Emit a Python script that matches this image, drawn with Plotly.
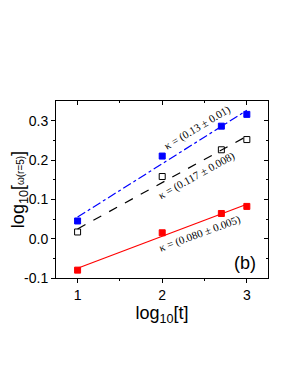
import numpy as np
import plotly.graph_objects as go

log_t = [1.0, 2.0, 2.699, 3.0]
blue_vals = [0.045, 0.210, 0.286, 0.316]
black_vals = [0.017, 0.158, 0.226, 0.252]
red_vals = [-0.080, 0.015, 0.064, 0.082]
x_ticks = [1, 2, 3]
y_ticks = [-0.1, 0.0, 0.1, 0.2, 0.3]
y_tick_text = ["-0.1", "0.0", "0.1", "0.2", "0.3"]

XR = [0.745, 3.25]
YR = [-0.1, 0.35]

fig = go.Figure()

def fit_line(vals):
    p = np.polyfit(log_t, vals, 1)
    xs = np.array([log_t[0], log_t[-1]])
    return xs, np.polyval(p, xs)

series = [
    (blue_vals, "#0000ff", "dashdot", "square", "#0000ff"),
    (black_vals, "#000000", "dash", "square-open", "#000000"),
    (red_vals, "#ff0000", "solid", "square", "#ff0000"),
]
for vals, col, dash, sym, mcol in series:
    xs, ys = fit_line(vals)
    fig.add_trace(go.Scatter(x=xs, y=ys, mode="lines",
                             line=dict(color=col, width=1.2, dash=dash),
                             showlegend=False, hoverinfo="skip"))
for vals, col, dash, sym, mcol in series:
    fig.add_trace(go.Scatter(x=log_t, y=vals, mode="markers",
                             marker=dict(symbol=sym, size=6, color=mcol,
                                         line=dict(color=mcol, width=1)),
                             showlegend=False))

# mirrored axes with inside ticks
fig.add_trace(go.Scatter(x=[None], y=[None], xaxis="x2", yaxis="y2", showlegend=False))

ann_font = dict(family="Liberation Serif, Times New Roman, serif", size=11, color="black")
fig.add_annotation(x=2.42, y=0.282, text="κ = (0.13 ± 0.01)", showarrow=False,
                   textangle=-31, font=ann_font, xref="x", yref="y")
fig.add_annotation(x=2.41, y=0.16, text="κ = (0.117 ± 0.008)", showarrow=False,
                   textangle=-29, font=ann_font, xref="x", yref="y")
fig.add_annotation(x=2.45, y=0.012, text="κ = (0.080 ± 0.005)", showarrow=False,
                   textangle=-20, font=ann_font, xref="x", yref="y")
fig.add_annotation(x=2.98, y=-0.063, text="(b)", showarrow=False,
                   font=dict(family="Liberation Sans, Arial, sans-serif", size=18, color="black"),
                   xref="x", yref="y")

tickfont = dict(family="Liberation Sans, Arial, sans-serif", size=14, color="black")
titlefont = dict(family="Liberation Sans, Arial, sans-serif", size=18, color="black")
fig.update_layout(
    width=292, height=380,
    margin=dict(l=48, r=32, t=93, b=110),
    paper_bgcolor="white", plot_bgcolor="white",
    xaxis=dict(range=XR, tickvals=x_ticks, ticks="outside", ticklen=4, automargin=False,
               tickcolor="black", showline=True, linecolor="black", linewidth=1,
               showgrid=False, zeroline=False, tickfont=tickfont,
               minor=dict(tickvals=[1.5, 2.5], ticks="outside", ticklen=2, tickcolor="black"),
               title=dict(text="log<sub>10</sub>[t]", font=titlefont, standoff=3)),
    yaxis=dict(range=YR, tickvals=y_ticks, ticktext=y_tick_text, ticks="outside", ticklen=4, automargin=False,
               tickcolor="black", showline=True, linecolor="black", linewidth=1,
               showgrid=False, zeroline=False, tickfont=tickfont,
               minor=dict(tickvals=[-0.05, 0.05, 0.15, 0.25], ticks="outside", ticklen=2, tickcolor="black"),
               title=dict(text="log<sub>10</sub>[<span style='font-size:10px'>ω(r=5)</span>]",
                          font=titlefont, standoff=4)),
    xaxis2=dict(range=XR, tickvals=x_ticks, ticks="inside", ticklen=4, tickcolor="black",
                overlaying="x", side="top", showticklabels=False, showline=True,
                linecolor="black", linewidth=1, showgrid=False, zeroline=False,
                minor=dict(tickvals=[1.5, 2.5], ticks="inside", ticklen=2, tickcolor="black")),
    yaxis2=dict(range=YR, tickvals=y_ticks, ticks="inside", ticklen=4, tickcolor="black",
                overlaying="y", side="right", showticklabels=False, showline=True,
                linecolor="black", linewidth=1, showgrid=False, zeroline=False,
                minor=dict(tickvals=[-0.05, 0.05, 0.15, 0.25], ticks="inside", ticklen=2, tickcolor="black")),
)

fig.write_html("out.html")
